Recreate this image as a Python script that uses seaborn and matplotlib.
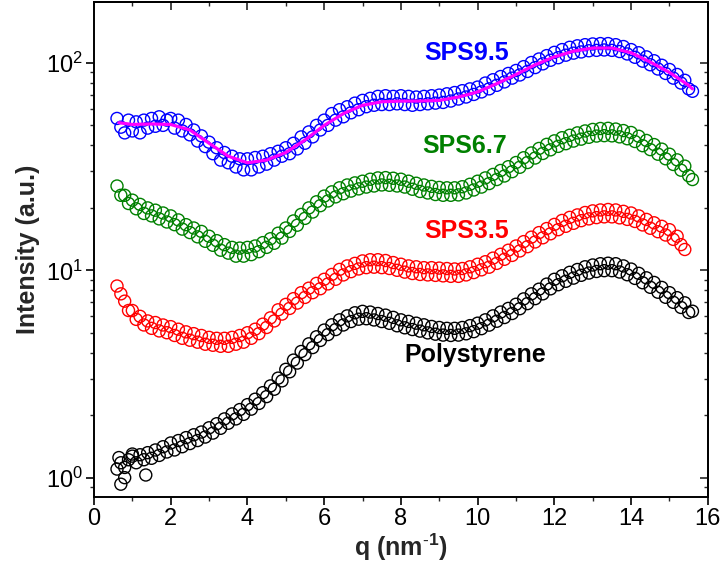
import numpy as np
import pandas as pd
import matplotlib
matplotlib.use("Agg")
import matplotlib.pyplot as plt
import seaborn as sns
from matplotlib.ticker import LogLocator, MultipleLocator, NullFormatter

# ---------------- data ----------------
q_vals = [0.6, 0.7, 0.8, 0.9,
          1.0, 1.1, 1.2, 1.3, 1.4, 1.5, 1.6, 1.7, 1.8, 1.9,
          2.0, 2.1, 2.2, 2.3, 2.4, 2.5, 2.6, 2.7, 2.8, 2.9,
          3.0, 3.1, 3.2, 3.3, 3.4, 3.5, 3.6, 3.7, 3.8, 3.9,
          4.0, 4.1, 4.2, 4.3, 4.4, 4.5, 4.6, 4.7, 4.8, 4.9,
          5.0, 5.1, 5.2, 5.3, 5.4, 5.5, 5.6, 5.7, 5.8, 5.9,
          6.0, 6.1, 6.2, 6.3, 6.4, 6.5, 6.6, 6.7, 6.8, 6.9,
          7.0, 7.1, 7.2, 7.3, 7.4, 7.5, 7.6, 7.7, 7.8, 7.9,
          8.0, 8.1, 8.2, 8.3, 8.4, 8.5, 8.6, 8.7, 8.8, 8.9,
          9.0, 9.1, 9.2, 9.3, 9.4, 9.5, 9.6, 9.7, 9.8, 9.9,
          10.0, 10.1, 10.2, 10.3, 10.4, 10.5, 10.6, 10.7, 10.8, 10.9,
          11.0, 11.1, 11.2, 11.3, 11.4, 11.5, 11.6, 11.7, 11.8, 11.9,
          12.0, 12.1, 12.2, 12.3, 12.4, 12.5, 12.6, 12.7, 12.8, 12.9,
          13.0, 13.1, 13.2, 13.3, 13.4, 13.5, 13.6, 13.7, 13.8, 13.9,
          14.0, 14.1, 14.2, 14.3, 14.4, 14.5, 14.6, 14.7, 14.8, 14.9,
          15.0, 15.1, 15.2, 15.3, 15.4, 15.5, 15.6]

sps95 = [54, 49, 46, 53,
         47, 52, 46, 53, 48.5, 54, 49.5, 55, 50, 53,
         54, 48.5, 53, 47, 50.5, 45, 47.5, 42, 44.5, 39.5,
         41.5, 36.5, 39, 34, 37, 33, 35.5, 31.5, 34.5, 30.5,
         34.5, 30.5, 35, 31.5, 35.5, 32.5, 36.5, 34, 37.5, 35.5,
         39, 36.5, 41, 38.5, 44, 41, 46.5, 44, 50, 47.5,
         53, 50, 57, 53, 59.5, 55, 61.5, 57.5, 64, 59.5,
         66, 61.5, 67.5, 62.5, 69, 63, 69.5, 63, 69, 63.5,
         69.5, 63, 69, 62.5, 68.5, 63, 69, 63.5, 69.5, 64,
         70, 64.5, 71, 65.5, 72, 67, 73.5, 68.5, 75, 70.5,
         76.5, 72.5, 80, 75, 83, 78, 86, 81, 89, 84.5,
         92, 87.5, 96, 91, 100.5, 95, 104.5, 99, 108.5, 103,
         112.5, 106, 116, 109, 119, 111.5, 121, 113, 122.5, 114.5,
         123.5, 115, 124, 115.5, 124, 115, 122.5, 113.5, 120, 110.5,
         116, 106.5, 112, 102, 107, 98, 102.5, 93.5, 97.5, 89,
         93, 84.5, 88, 80, 82.5, 75, 73]

sps67 = [25.5, 23, 23, 21,
         21.8, 19.8, 20.8, 18.8, 20, 18.3, 19.5, 17.7, 18.9, 17.1,
         18.3, 16.6, 17.5, 15.8, 16.6, 15.2, 16, 14.5, 15.4, 13.8,
         14.6, 13.2, 13.9, 12.5, 13.3, 12.1, 12.9, 11.7, 12.8, 11.7,
         12.9, 11.9, 13.1, 12.3, 13.6, 12.9, 14.2, 13.5, 15.1, 14.3,
         16, 15.4, 17.3, 16.5, 18.6, 17.8, 20, 19.1, 21.4, 20.5,
         22.8, 21.6, 23.9, 22.6, 25, 23.4, 25.8, 24.1, 26.4, 24.7,
         26.9, 25.2, 27.5, 25.5, 27.9, 25.8, 28, 25.7, 27.8, 25.5,
         27.5, 25.2, 26.9, 24.6, 26.3, 24, 25.8, 23.6, 25.4, 23.2,
         25.1, 23, 25, 23, 25, 23.1, 25.3, 23.6, 26, 24.4,
         26.9, 25.2, 27.9, 26.2, 29, 27.4, 30.3, 28.5, 31.6, 29.9,
         33.1, 31.4, 34.9, 33.1, 36.8, 34.8, 38.7, 36.6, 40.5, 38.1,
         42.1, 39.6, 43.6, 40.8, 44.8, 42, 46, 42.9, 47, 43.8,
         47.8, 44.4, 48.3, 44.6, 48.4, 44.5, 48, 44, 47.2, 43.1,
         46.2, 41.8, 44.3, 39.9, 42.3, 38.2, 40.4, 36.3, 38.4, 34.5,
         36.3, 32.4, 34.1, 30.4, 31.8, 28.6, 27.4]

sps35 = [8.4, 7.7, 7.1, 6.4,
         6.4, 5.8, 6.0, 5.45, 5.7, 5.25, 5.6, 5.1, 5.45, 5.0,
         5.35, 4.85, 5.2, 4.7, 5.05, 4.6, 4.95, 4.5, 4.85, 4.4,
         4.75, 4.35, 4.7, 4.3, 4.7, 4.3, 4.75, 4.4, 4.85, 4.5,
         5.0, 4.7, 5.2, 4.95, 5.5, 5.3, 5.9, 5.7, 6.45, 6.15,
         6.85, 6.55, 7.3, 6.95, 7.8, 7.4, 8.2, 7.8, 8.65, 8.15,
         9.05, 8.6, 9.55, 9.05, 10.1, 9.5, 10.5, 9.85, 10.8, 10.15,
         11.1, 10.3, 11.25, 10.35, 11.25, 10.3, 11.15, 10.2, 10.9, 10.0,
         10.7, 9.8, 10.5, 9.65, 10.4, 9.55, 10.3, 9.5, 10.3, 9.45,
         10.25, 9.4, 10.2, 9.35, 10.15, 9.35, 10.2, 9.5, 10.4, 9.75,
         10.7, 10.05, 11.0, 10.35, 11.45, 10.8, 11.95, 11.3, 12.5, 11.8,
         13.1, 12.4, 13.75, 13.0, 14.45, 13.7, 15.2, 14.35, 15.9, 15.0,
         16.65, 15.7, 17.4, 16.3, 18.0, 16.85, 18.5, 17.35, 19.0, 17.7,
         19.35, 17.95, 19.55, 18.1, 19.65, 18.1, 19.55, 17.9, 19.25, 17.6,
         18.9, 17.2, 18.3, 16.55, 17.6, 15.95, 16.95, 15.35, 16.3, 14.8,
         15.7, 14.1, 14.6, 13.3, 12.6]

polystyrene = [1.1, 1.18, 1.12, 1.22,
               1.27, 1.18, 1.29, 1.22, 1.32, 1.24, 1.36, 1.28, 1.41, 1.33,
               1.47, 1.36, 1.51, 1.41, 1.56, 1.46, 1.61, 1.51, 1.66, 1.57,
               1.74, 1.64, 1.82, 1.73, 1.92, 1.83, 2.03, 1.92, 2.13, 2.02,
               2.25, 2.14, 2.39, 2.28, 2.57, 2.46, 2.77, 2.67, 3.02, 2.93,
               3.33, 3.24, 3.69, 3.57, 4.06, 3.92, 4.42, 4.24, 4.78, 4.59,
               5.15, 4.9, 5.46, 5.18, 5.77, 5.45, 6.03, 5.66, 6.24, 5.81,
               6.34, 5.84, 6.29, 5.76, 6.19, 5.66, 6.08, 5.55, 5.93, 5.4,
               5.77, 5.28, 5.67, 5.18, 5.56, 5.09, 5.46, 4.99, 5.36, 4.92,
               5.3, 4.87, 5.25, 4.85, 5.25, 4.87, 5.3, 4.94, 5.41, 5.06,
               5.56, 5.23, 5.77, 5.44, 6.03, 5.68, 6.29, 5.92, 6.55, 6.19,
               6.86, 6.53, 7.28, 6.91, 7.7, 7.3, 8.11, 7.7, 8.58, 8.14,
               9.05, 8.52, 9.41, 8.85, 9.78, 9.17, 10.09, 9.46, 10.4, 9.7,
               10.61, 9.87, 10.76, 9.96, 10.82, 9.96, 10.76, 9.81, 10.5, 9.52,
               10.14, 9.14, 9.67, 8.71, 9.2, 8.28, 8.74, 7.84, 8.27, 7.41,
               7.8, 7.01, 7.38, 6.62, 6.97, 6.26, 6.35]

# scattered low-q points of polystyrene
ps_extra_q = [0.65, 0.7, 0.8, 1.0, 1.35]
ps_extra_i = [1.25, 0.93, 1.0, 1.3, 1.03]

# magenta fit through SPS9.5
q_fit = [0.65, 1.0, 1.5, 2.0, 2.5, 3.0, 3.5, 4.0, 4.5, 5.0, 5.5, 6.0, 6.5, 7.0, 7.5, 8.0,
         8.5, 9.0, 9.5, 10.0, 10.5, 11.0, 11.5, 12.0, 12.5, 13.0, 13.5, 14.0, 14.5, 15.0, 15.5, 15.6]
i_fit = [51.5, 50.5, 50.8, 50.5, 47.5, 41, 35.5, 33, 34, 37, 42.5, 50, 57, 62.5, 65, 65.5,
         65.5, 66, 68.5, 72.5, 79.5, 88, 98, 107, 114, 118, 118, 112, 101, 90, 78, 75]

labels = ["SPS9.5", "SPS6.7", "SPS3.5", "Polystyrene"]
colors = ["#0000FF", "#008000", "#FF0000", "#000000"]
label_q = [9.7, 9.65, 9.7, 9.95]
label_i = [112, 39.6, 15.4, 3.9]

# ---------------- figure ----------------
sns.set_theme(style="white")
plt.rcParams["font.family"] = ["Liberation Sans", "DejaVu Sans"]
plt.rcParams["mathtext.fontset"] = "custom"
plt.rcParams["mathtext.rm"] = "Liberation Sans"
plt.rcParams["mathtext.bf"] = "Liberation Sans:bold"
plt.rcParams["mathtext.default"] = "regular"

fig = plt.figure(figsize=(7.23, 5.75), dpi=100)
ax = fig.add_axes([0.130, 0.1357, 0.849, 0.861])

series = [
    (q_vals, sps95),
    (q_vals, sps67),
    (q_vals[:len(sps35)], sps35),
    (ps_extra_q + q_vals, ps_extra_i + polystyrene),
]
for (qq, ii), c in zip(series, colors):
    df = pd.DataFrame({"q": qq, "I": ii})
    sns.scatterplot(data=df, x="q", y="I", ax=ax, marker="o", s=75,
                    facecolor="none", edgecolor=c, linewidth=1.0, zorder=2)

fit_df = pd.DataFrame({"q": q_fit, "I": i_fit})
sns.lineplot(data=fit_df, x="q", y="I", ax=ax, color="#FF00FF", linewidth=2.3, zorder=3)

for lab, c, xq, yi in zip(labels, colors, label_q, label_i):
    ax.text(xq, yi, lab, color=c, fontsize=18, fontweight="bold", ha="center", va="center")

ax.set_yscale("log")
ax.set_xlim(0, 16)
ax.set_ylim(0.807, 197)
ax.xaxis.set_major_locator(MultipleLocator(2))
ax.xaxis.set_minor_locator(MultipleLocator(1))
ax.yaxis.set_major_locator(LogLocator(base=10, numticks=10))
ax.yaxis.set_minor_locator(LogLocator(base=10, subs=np.arange(2, 10), numticks=20))
ax.yaxis.set_minor_formatter(NullFormatter())

for sp in ax.spines.values():
    sp.set_linewidth(1.4)
    sp.set_color("black")

ax.tick_params(axis="both", which="major", direction="out", length=6, width=1.2,
               labelsize=17, colors="black", pad=2)
ax.tick_params(axis="both", which="minor", direction="out", length=3, width=1.0)
ax.tick_params(axis="both", which="both", bottom=True, left=True)

# mirrored inward ticks on top and right
axt = ax.secondary_xaxis("top")
axt.xaxis.set_major_locator(MultipleLocator(2))
axt.xaxis.set_minor_locator(MultipleLocator(1))
axt.tick_params(which="major", direction="in", length=6, width=1.2, labeltop=False)
axt.tick_params(which="minor", direction="in", length=3, width=1.0)
axr = ax.secondary_yaxis("right")
axr.set_yscale("log")
axr.yaxis.set_major_locator(LogLocator(base=10, numticks=10))
axr.yaxis.set_minor_locator(LogLocator(base=10, subs=np.arange(2, 10), numticks=20))
axr.tick_params(which="major", direction="in", length=6, width=1.2, labelright=False)
axr.tick_params(which="minor", direction="in", length=3, width=1.0, labelright=False)
axr.yaxis.set_minor_formatter(NullFormatter())

ax.set_xlabel(r"q (nm$^{\mathbf{\text{-}1}}$)", fontsize=18, fontweight="bold", labelpad=1)
ax.set_ylabel("Intensity (a.u.)", fontsize=18, fontweight="bold", labelpad=4)

fig.savefig("out.png", dpi=100)
